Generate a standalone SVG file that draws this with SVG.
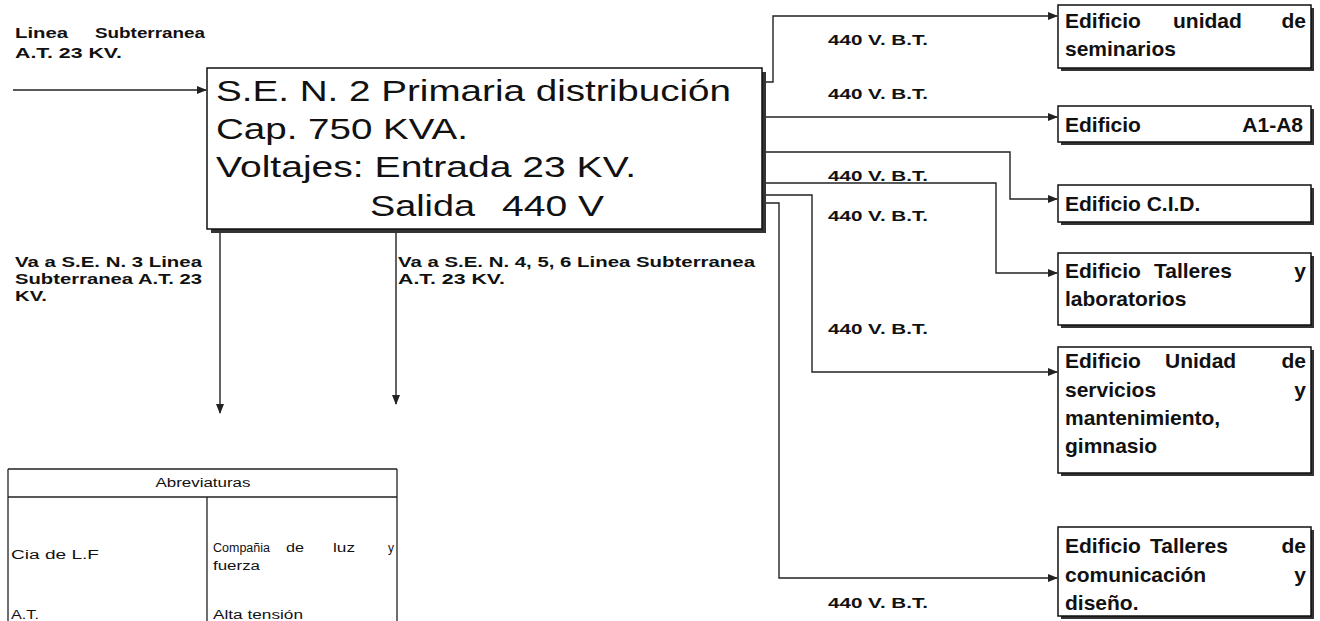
<svg xmlns="http://www.w3.org/2000/svg" width="1320" height="621" viewBox="0 0 1320 621">
<defs>
<marker id="ah" markerWidth="10" markerHeight="8" refX="9" refY="4" orient="auto" markerUnits="userSpaceOnUse">
<path d="M0,0 L10,4 L0,8 z" fill="#222"/>
</marker>
<style>
.bx{fill:#fff;stroke:#111;stroke-width:1.5}
.sh{fill:#333}
.cn{fill:none;stroke:#222;stroke-width:1.4}
.ar{marker-end:url(#ah)}
.main{font-family:"Liberation Sans",Arial,sans-serif;font-size:30px;fill:#111}
.bt{font-family:"Liberation Sans",Arial,sans-serif;font-size:21px;font-weight:bold;fill:#111}
.sm{font-family:"Liberation Sans",Arial,sans-serif;font-size:14px;font-weight:bold;fill:#111}
.tb{font-family:"Liberation Sans",Arial,sans-serif;font-size:12px;fill:#111}
.tl{fill:none;stroke:#222;stroke-width:1.3}
</style>
</defs>
<rect width="1320" height="621" fill="#fff"/>

<g id="connectors">
<path class="cn ar" d="M13,90 H206"/>
<path class="cn ar" d="M220,233 V413"/>
<path class="cn ar" d="M396,233 V404"/>
<path class="cn ar" d="M766,82 H773 V16 H1057"/>
<path class="cn ar" d="M766,117 H1057"/>
<path class="cn ar" d="M766,152 H1010 V199 H1057"/>
<path class="cn ar" d="M766,183 H996 V273 H1057"/>
<path class="cn ar" d="M766,195 H812 V372 H1057"/>
<path class="cn ar" d="M766,203 H779 V578 H1057"/>
</g>

<g id="labels">
<text class="sm" x="15" y="38" textLength="53" lengthAdjust="spacingAndGlyphs">Linea</text>
<text class="sm" x="95" y="38" textLength="110" lengthAdjust="spacingAndGlyphs">Subterranea</text>
<text class="sm" x="15" y="58" textLength="107" lengthAdjust="spacingAndGlyphs">A.T. 23 KV.</text>
<text class="sm" x="15" y="267" textLength="187" lengthAdjust="spacingAndGlyphs">Va a S.E. N. 3 Linea</text>
<text class="sm" x="15" y="284" textLength="187" lengthAdjust="spacingAndGlyphs">Subterranea A.T. 23</text>
<text class="sm" x="15" y="301" textLength="32" lengthAdjust="spacingAndGlyphs">KV.</text>
<text class="sm" x="398" y="267" textLength="357" lengthAdjust="spacingAndGlyphs">Va a S.E. N. 4, 5, 6 Linea Subterranea</text>
<text class="sm" x="398" y="284" textLength="107" lengthAdjust="spacingAndGlyphs">A.T. 23 KV.</text>
<text class="sm" x="828" y="45" textLength="100" lengthAdjust="spacingAndGlyphs">440 V. B.T.</text>
<text class="sm" x="828" y="99" textLength="100" lengthAdjust="spacingAndGlyphs">440 V. B.T.</text>
<text class="sm" x="828" y="181" textLength="100" lengthAdjust="spacingAndGlyphs">440 V. B.T.</text>
<text class="sm" x="828" y="221" textLength="100" lengthAdjust="spacingAndGlyphs">440 V. B.T.</text>
<text class="sm" x="828" y="334" textLength="100" lengthAdjust="spacingAndGlyphs">440 V. B.T.</text>
<text class="sm" x="828" y="608" textLength="100" lengthAdjust="spacingAndGlyphs">440 V. B.T.</text>
</g>

<g id="main">
<rect class="sh" x="211" y="72" width="555" height="161"/>
<rect class="bx" x="207" y="68" width="555" height="161"/>
<text class="main" x="216" y="101" textLength="515" lengthAdjust="spacingAndGlyphs">S.E. N. 2 Primaria distribución</text>
<text class="main" x="216" y="139" textLength="252" lengthAdjust="spacingAndGlyphs">Cap. 750 KVA.</text>
<text class="main" x="216" y="177" textLength="420" lengthAdjust="spacingAndGlyphs">Voltajes: Entrada 23 KV.</text>
<text class="main" x="370" y="216" textLength="105" lengthAdjust="spacingAndGlyphs">Salida</text>
<text class="main" x="502" y="216" textLength="102" lengthAdjust="spacingAndGlyphs">440 V</text>
</g>

<g id="b1">
<rect class="sh" x="1061" y="8" width="253" height="63"/>
<rect class="bx" x="1058" y="5" width="253" height="63"/>
<text class="bt" x="1065" y="28">Edificio</text>
<text class="bt" x="1173" y="28">unidad</text>
<text class="bt" x="1306" y="28" text-anchor="end">de</text>
<text class="bt" x="1065" y="56">seminarios</text>
</g>

<g id="b2">
<rect class="sh" x="1061" y="109" width="253" height="36"/>
<rect class="bx" x="1058" y="106" width="253" height="36"/>
<text class="bt" x="1065" y="132">Edificio</text>
<text class="bt" x="1303" y="132" text-anchor="end">A1-A8</text>
</g>

<g id="b3">
<rect class="sh" x="1061" y="188" width="253" height="37"/>
<rect class="bx" x="1058" y="185" width="253" height="37"/>
<text class="bt" x="1065" y="211">Edificio C.I.D.</text>
</g>

<g id="b4">
<rect class="sh" x="1061" y="256" width="253" height="72"/>
<rect class="bx" x="1058" y="253" width="253" height="72"/>
<text class="bt" x="1065" y="278">Edificio</text>
<text class="bt" x="1154" y="278">Talleres</text>
<text class="bt" x="1306" y="278" text-anchor="end">y</text>
<text class="bt" x="1065" y="306">laboratorios</text>
</g>

<g id="b5">
<rect class="sh" x="1061" y="350" width="253" height="126"/>
<rect class="bx" x="1058" y="347" width="253" height="126"/>
<text class="bt" x="1065" y="368">Edificio</text>
<text class="bt" x="1165" y="368">Unidad</text>
<text class="bt" x="1306" y="368" text-anchor="end">de</text>
<text class="bt" x="1065" y="397">servicios</text>
<text class="bt" x="1306" y="397" text-anchor="end">y</text>
<text class="bt" x="1065" y="425">mantenimiento,</text>
<text class="bt" x="1065" y="453">gimnasio</text>
</g>

<g id="b6">
<rect class="sh" x="1061" y="530" width="253" height="89"/>
<rect class="bx" x="1058" y="527" width="253" height="89"/>
<text class="bt" x="1065" y="553">Edificio</text>
<text class="bt" x="1150" y="553">Talleres</text>
<text class="bt" x="1306" y="553" text-anchor="end">de</text>
<text class="bt" x="1065" y="582">comunicación</text>
<text class="bt" x="1306" y="582" text-anchor="end">y</text>
<text class="bt" x="1065" y="610">diseño.</text>
</g>

<g id="abreviaturas">
<path class="tl" d="M8,469 H397 M8,497 H397 M8,469 V621 M397,469 V621 M207,497 V621"/>
<text class="tb" x="203" y="487" text-anchor="middle" textLength="95" lengthAdjust="spacingAndGlyphs">Abreviaturas</text>
<text class="tb" x="11" y="559" textLength="88" lengthAdjust="spacingAndGlyphs">Cia  de L.F</text>
<text class="tb" x="213" y="552" textLength="57" lengthAdjust="spacingAndGlyphs">Compañia</text>
<text class="tb" x="286" y="552" textLength="18" lengthAdjust="spacingAndGlyphs">de</text>
<text class="tb" x="333" y="552" textLength="22" lengthAdjust="spacingAndGlyphs">luz</text>
<text class="tb" x="394" y="552" text-anchor="end">y</text>
<text class="tb" x="213" y="570" textLength="47" lengthAdjust="spacingAndGlyphs">fuerza</text>
<text class="tb" x="11" y="619" textLength="28" lengthAdjust="spacingAndGlyphs">A.T.</text>
<text class="tb" x="213" y="619" textLength="90" lengthAdjust="spacingAndGlyphs">Alta tensión</text>
</g>
</svg>
